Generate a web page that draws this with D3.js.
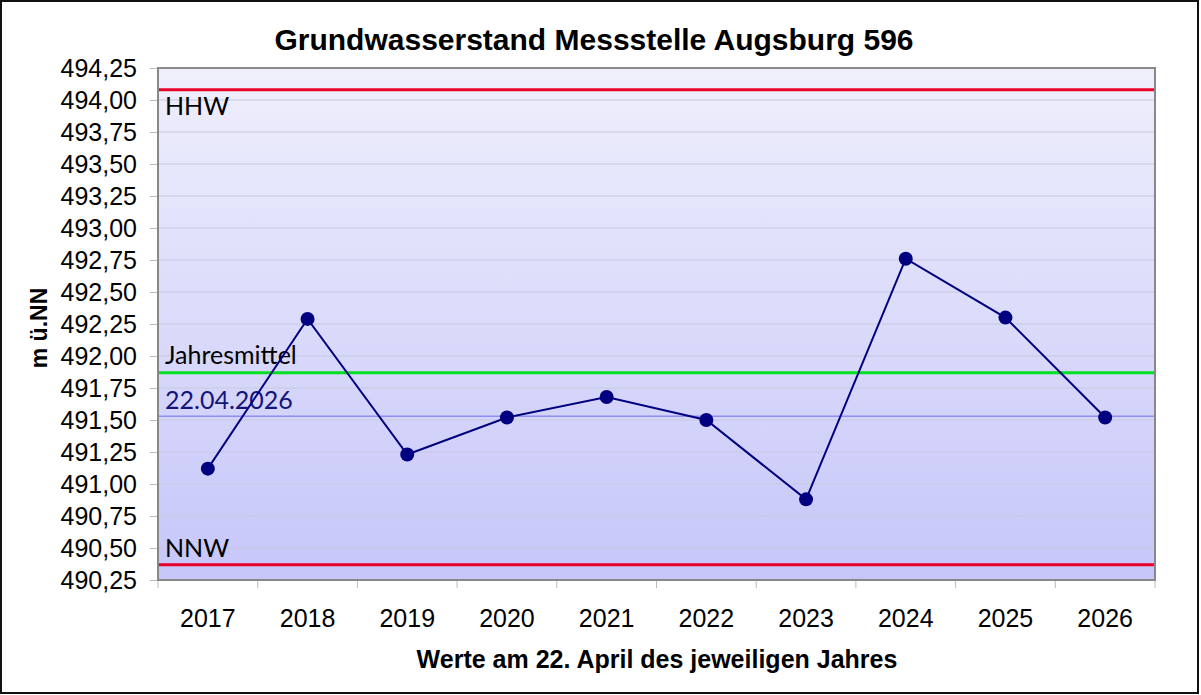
<!DOCTYPE html>
<html>
<head>
<meta charset="utf-8">
<script src="https://cdn.jsdelivr.net/npm/d3@7"></script>
<style>
  body { margin: 0; background: #fff; }
  svg { display: block; }
</style>
</head>
<body>
<div id="chart"></div>
<script>
// Werte am 22. April
var years = ["2017", "2018", "2019", "2020", "2021", "2022", "2023", "2024", "2025", "2026"];
var levels = [491.12, 492.29, 491.23, 491.52, 491.68, 491.50, 490.88, 492.76, 492.30, 491.52];
var yTicks = [490.25, 490.50, 490.75, 491.00, 491.25, 491.50, 491.75, 492.00, 492.25, 492.50, 492.75, 493.00, 493.25, 493.50, 493.75, 494.00, 494.25];
var refNames = ["HHW", "Jahresmittel", "22.04.2026", "NNW"];
var refValues = [494.08, 491.87, 491.53, 490.37];

var W = 1201, H = 695;
var m = { left: 158, right: 1155, top: 68, bottom: 580 };

var svg = d3.select("#chart").append("svg")
  .attr("width", W)
  .attr("height", H);

// outer frame
svg.append("rect")
  .attr("x", 1).attr("y", 1)
  .attr("width", W - 4).attr("height", H - 3)
  .attr("fill", "#fff")
  .attr("stroke", "#111")
  .attr("stroke-width", 2);

var x = d3.scaleBand().domain(years).range([m.left, m.right]);
var y = d3.scaleLinear().domain([490.25, 494.25]).range([m.bottom, m.top]);

var grad = svg.append("defs").append("linearGradient")
  .attr("id", "bg").attr("x1", 0).attr("y1", 0).attr("x2", 0).attr("y2", 1);
grad.append("stop").attr("offset", "0%").attr("stop-color", "#efeffc");
grad.append("stop").attr("offset", "100%").attr("stop-color", "#c6c6fa");

svg.append("rect")
  .attr("x", m.left).attr("y", m.top)
  .attr("width", m.right - m.left).attr("height", m.bottom - m.top)
  .attr("fill", "url(#bg)");

// gridlines
svg.append("g").selectAll("line")
  .data(yTicks.slice(1, -1))
  .enter().append("line")
  .attr("x1", m.left).attr("x2", m.right)
  .attr("y1", function(d){ return y(d); })
  .attr("y2", function(d){ return y(d); })
  .attr("stroke", "#c8c8e0")
  .attr("stroke-width", 1);

// y axis
var yAxis = svg.append("g")
  .attr("transform", "translate(" + m.left + ",0)")
  .call(d3.axisLeft(y).tickValues(yTicks).tickSize(8).tickPadding(13)
    .tickFormat(function(d){ return d.toFixed(2).replace(".", ","); }));
yAxis.select(".domain").remove();
yAxis.selectAll("line").attr("stroke", "#bbb");
yAxis.selectAll("text")
  .attr("font-family", "Liberation Sans, Arial, sans-serif")
  .attr("font-size", 25)
  .attr("fill", "#000");

// x axis
var xAxis = svg.append("g")
  .attr("transform", "translate(0," + m.bottom + ")")
  .call(d3.axisBottom(x).tickSize(0).tickPadding(29));
xAxis.select(".domain").remove();
xAxis.selectAll("text")
  .attr("font-family", "Liberation Sans, Arial, sans-serif")
  .attr("font-size", 25)
  .attr("fill", "#000");
svg.append("g").selectAll("line")
  .data(years.concat(["end"]))
  .enter().append("line")
  .attr("x1", function(d, i){ return m.left + i * x.step(); })
  .attr("x2", function(d, i){ return m.left + i * x.step(); })
  .attr("y1", m.bottom).attr("y2", m.bottom + 8)
  .attr("stroke", "#bbb");

// plot border
svg.append("rect")
  .attr("x", m.left).attr("y", m.top)
  .attr("width", m.right - m.left).attr("height", m.bottom - m.top)
  .attr("fill", "none")
  .attr("stroke", "#888")
  .attr("stroke-width", 2);

// reference lines
var refColors = ["#e8002a", "#00e020", "#6b6bf0", "#e8002a"];
var refWidths = [3, 3, 1, 3];
svg.append("g").selectAll("line")
  .data(refValues)
  .enter().append("line")
  .attr("x1", m.left + 1).attr("x2", m.right - 1)
  .attr("y1", function(d){ return y(d); })
  .attr("y2", function(d){ return y(d); })
  .attr("stroke", function(d, i){ return refColors[i]; })
  .attr("stroke-width", function(d, i){ return refWidths[i]; });

// labels of reference lines
var labelDy = [25, -9, -7, -8];
var labelColors = ["#000", "#000", "#14147a", "#000"];
svg.append("g").selectAll("text")
  .data(refNames)
  .enter().append("text")
  .attr("x", m.left + 7)
  .attr("y", function(d, i){ return y(refValues[i]) + labelDy[i]; })
  .attr("font-family", "Lato, Open Sans, sans-serif")
  .attr("font-size", 25)
  .attr("fill", function(d, i){ return labelColors[i]; })
  .text(function(d){ return d; });

// series
var line = d3.line()
  .x(function(d, i){ return x(years[i]) + x.bandwidth() / 2; })
  .y(function(d){ return y(d); });

svg.append("path")
  .datum(levels)
  .attr("d", line)
  .attr("fill", "none")
  .attr("stroke", "#000080")
  .attr("stroke-width", 2);

svg.append("g").selectAll("circle")
  .data(levels)
  .enter().append("circle")
  .attr("cx", function(d, i){ return x(years[i]) + x.bandwidth() / 2; })
  .attr("cy", function(d){ return y(d); })
  .attr("r", 7)
  .attr("fill", "#000080");

// titles
svg.append("text")
  .attr("x", 594).attr("y", 50)
  .attr("text-anchor", "middle")
  .attr("font-family", "Liberation Sans, Arial, sans-serif")
  .attr("font-weight", "bold")
  .attr("font-size", 30)
  .text("Grundwasserstand Messstelle Augsburg 596");

svg.append("text")
  .attr("x", 657).attr("y", 668)
  .attr("text-anchor", "middle")
  .attr("font-family", "Liberation Sans, Arial, sans-serif")
  .attr("font-weight", "bold")
  .attr("font-size", 25)
  .text("Werte am 22. April des jeweiligen Jahres");

svg.append("text")
  .attr("transform", "translate(47,328) rotate(-90)")
  .attr("text-anchor", "middle")
  .attr("font-family", "Liberation Sans, Arial, sans-serif")
  .attr("font-weight", "bold")
  .attr("font-size", 23)
  .text("m ü.NN");
</script>
</body>
</html>
